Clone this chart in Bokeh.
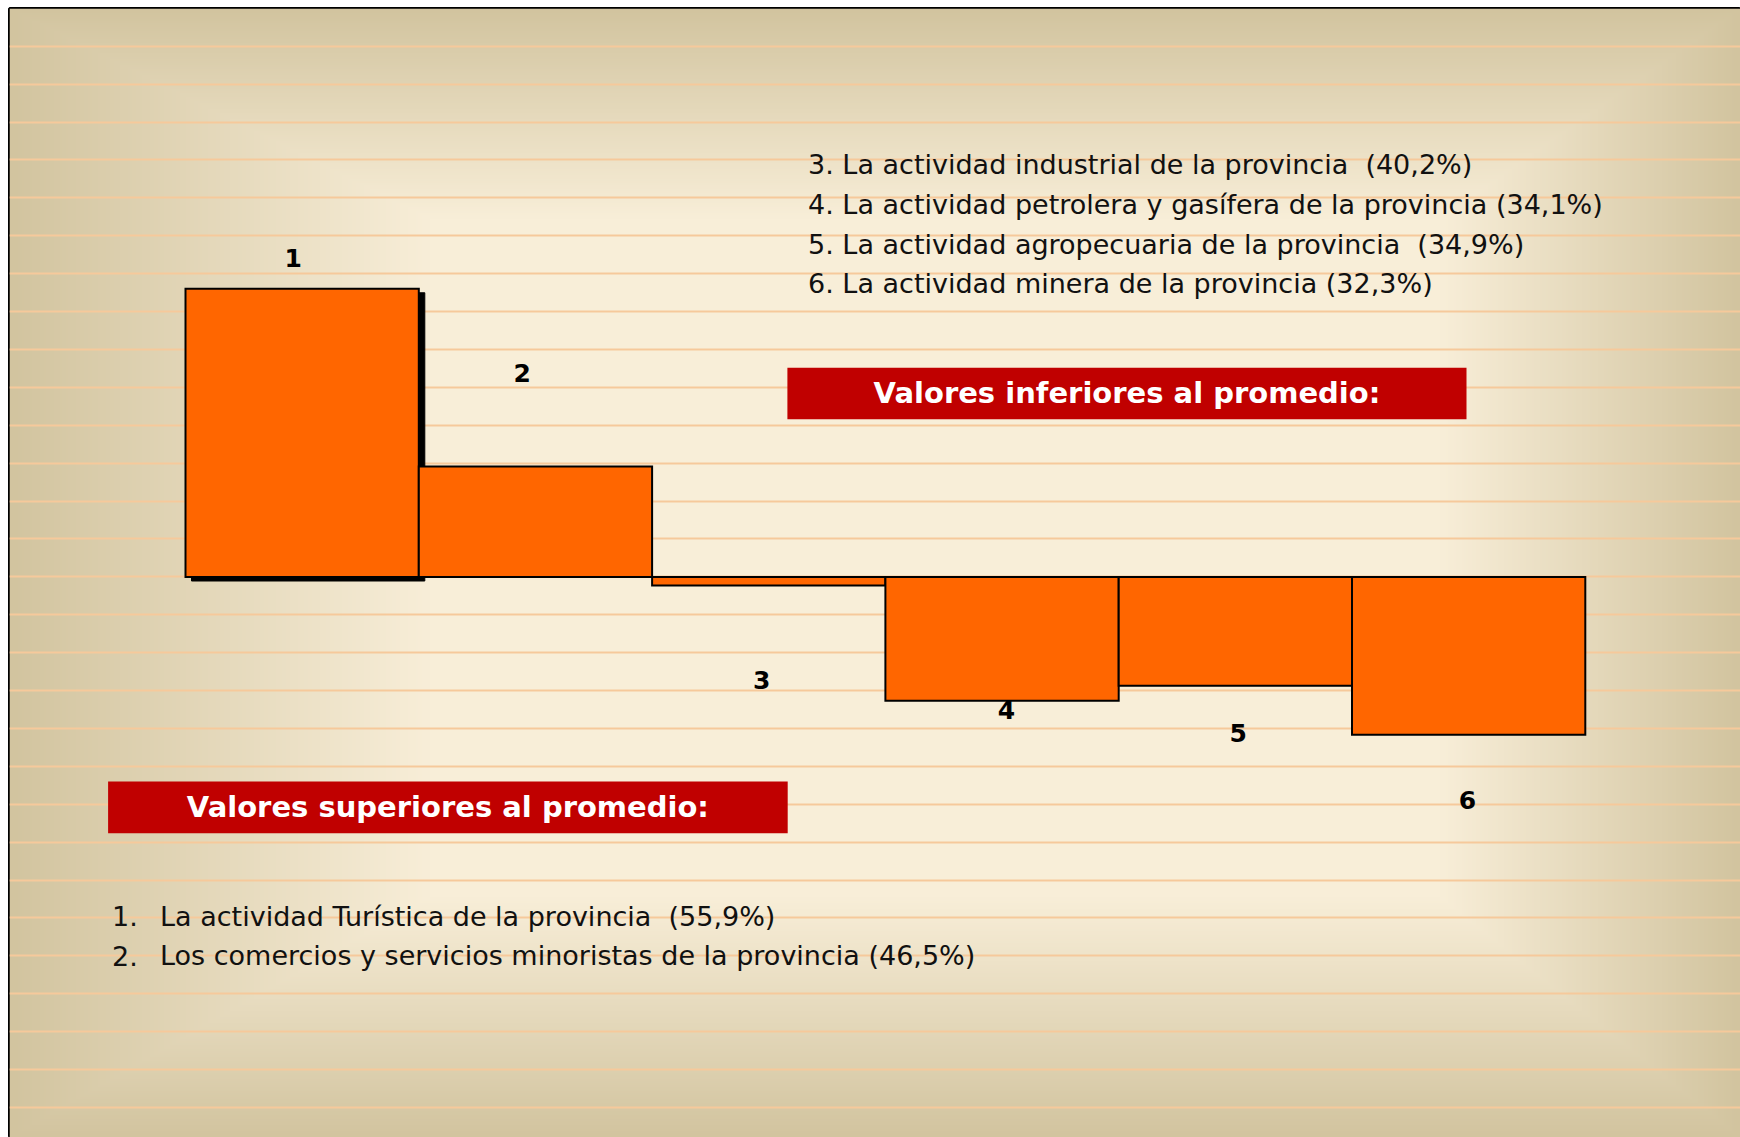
import numpy as np
from bokeh.plotting import figure
from bokeh.models import Label, Range1d
from bokeh.embed import file_html
from bokeh.resources import INLINE

# ---------------- data ----------------
bar_ids = ["1", "2", "3", "4", "5", "6"]
actividades = [
    "La actividad Turística de la provincia",
    "Los comercios y servicios minoristas de la provincia",
    "La actividad industrial de la provincia",
    "La actividad petrolera y gasífera de la provincia",
    "La actividad agropecuaria de la provincia",
    "La actividad minera de la provincia",
]
porcentajes = [55.9, 46.5, 40.2, 34.1, 34.9, 32.3]
pct_labels = ["55,9%", "46,5%", "40,2%", "34,1%", "34,9%", "32,3%"]
separadores = ["\u00a0 ", " ", "\u00a0 ", " ", "\u00a0 ", " "]
titulo_sup = "Valores superiores al promedio:"
titulo_inf = "Valores inferiores al promedio:"

promedio = sum(porcentajes) / len(porcentajes)
desvio = [v - promedio for v in porcentajes]

# ---------------- geometry (page pixels) ----------------
W, H = 1740, 1137
FL, FT = 9, 8              # frame left / top inside the figure
FW, FH = W - FL, H - FT
SX = 233.3                 # px per bar
SY = 18.9                  # px per percentage point
BAR_LEFT_PAGE = 185.0
BASE_PAGE = 576.5

xs = -(BAR_LEFT_PAGE - FL) / SX
xe = xs + FW / SX
yt = (BASE_PAGE - FT) / SY
yb = yt - FH / SY


def X(px):
    return xs + (px - FL) / SX


def Y(py):
    return yt - (py - FT) / SY


p = figure(width=W, height=H, output_backend="svg", toolbar_location=None,
           x_range=Range1d(xs, xe), y_range=Range1d(yb, yt),
           min_border=0, min_border_left=FL, min_border_right=0,
           min_border_top=FT, min_border_bottom=0)
p.axis.visible = False
p.grid.visible = False
p.outline_line_color = "black"
p.outline_line_width = 3
p.background_fill_color = "#d1c49e"
p.border_fill_color = "white"

# ---------------- background gradient ----------------
gw, gh = FW // 2, FH // 2
yy, xx = np.mgrid[0:gh, 0:gw]
pxg = FL + (xx + 0.5) * FW / gw
pyg = FT + (yy + 0.5) * FH / gh
tx = np.minimum((pxg - FL) / 420.0, (W - pxg) / 300.0)
ty = np.minimum((pyg - FT) / 210.0, (H - pyg) / 240.0)
t = np.clip(np.minimum(tx, ty), 0, 1)
edge = np.array([210, 196, 159], dtype=float)
center = np.array([248, 238, 216], dtype=float)
rgb = edge[None, None, :] + (center - edge)[None, None, :] * t[..., None]
rgb = rgb[::-1]
img = np.empty((gh, gw), dtype=np.uint32)
view = img.view(dtype=np.uint8).reshape((gh, gw, 4))
view[..., 0] = rgb[..., 0].astype(np.uint8)
view[..., 1] = rgb[..., 1].astype(np.uint8)
view[..., 2] = rgb[..., 2].astype(np.uint8)
view[..., 3] = 255
p.image_rgba(image=[img], x=xs, y=yb, dw=xe - xs, dh=yt - yb)

# ruled stripes
stripe_y = [Y(45.7 + 37.9 * n) for n in range(29)]
p.hspan(y=stripe_y, line_color="#f6c99b", line_width=2)

# ---------------- bars ----------------
lefts = list(range(len(desvio)))
rights = [i + 1 for i in lefts]
tops = [max(d, 0) for d in desvio]
bottoms = [min(d, 0) for d in desvio]

# drop shadow of first bar
dx, dy = 6 / SX, 4 / SY
p.quad(left=[lefts[0] + dx], right=[rights[0] + dx], top=[tops[0] - dy],
       bottom=[bottoms[0] - dy], fill_color="black", line_color="black")

p.quad(left=lefts, right=rights, top=tops, bottom=bottoms,
       fill_color="#ff6600", line_color="black", line_width=2,
       line_join="miter")

FONT = "DejaVu Sans"

# bar number labels
num_pos = [(292.8, 257.5), (521.8, 372.0), (761.3, 679.5),
           (1006.0, 709.0), (1237.6, 732.0), (1467.0, 799.0)]
for lab, (px_, py_) in zip(bar_ids, num_pos):
    p.add_layout(Label(x=X(px_), y=Y(py_), text=lab, text_font=FONT,
                       text_font_style="bold", text_font_size="25px",
                       text_color="black", text_align="center",
                       text_baseline="middle"))

# red header boxes
p.quad(left=[X(786.9), X(107.6)], right=[X(1466.0), X(787.2)],
       top=[Y(367.3), Y(781.0)], bottom=[Y(418.7), Y(832.7)],
       fill_color="#c00000", line_color=None)
p.add_layout(Label(x=X((786.9 + 1466.0) / 2), y=Y(392.0), text=titulo_inf,
                   text_font=FONT, text_font_style="bold", text_font_size="29px",
                   text_color="white", text_align="center", text_baseline="middle"))
p.add_layout(Label(x=X((107.6 + 787.2) / 2), y=Y(806.0), text=titulo_sup,
                   text_font=FONT, text_font_style="bold", text_font_size="29px",
                   text_color="white", text_align="center", text_baseline="middle"))

# list of lower values (3-6)
upper_y = [164.0, 203.8, 243.6, 283.4]
for k, i in enumerate(range(2, 6)):
    txt = f"{bar_ids[i]}. {actividades[i]}{separadores[i]}({pct_labels[i]})"
    p.add_layout(Label(x=X(807.5), y=Y(upper_y[k]), text=txt, text_font=FONT,
                       text_font_size="27px", text_color="#111111",
                       text_align="left", text_baseline="middle"))

# list of higher values (1-2)
lower_y = [915.5, 955.0]
for k, i in enumerate(range(0, 2)):
    p.add_layout(Label(x=X(111.6), y=Y(lower_y[k]), text=f"{bar_ids[i]}.",
                       text_font=FONT, text_font_size="27px", text_color="#111111",
                       text_align="left", text_baseline="middle"))
    txt = f"{actividades[i]}{separadores[i]}({pct_labels[i]})"
    p.add_layout(Label(x=X(159.5), y=Y(lower_y[k]), text=txt, text_font=FONT,
                       text_font_size="27px", text_color="#111111",
                       text_align="left", text_baseline="middle"))

open("out.html", "w").write(file_html(p, INLINE))
